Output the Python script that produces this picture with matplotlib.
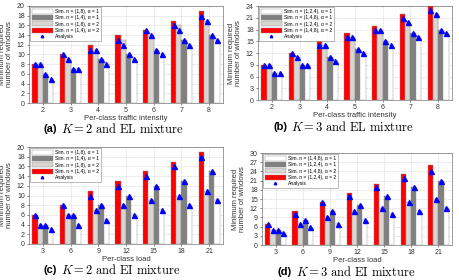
import numpy as np
import matplotlib.pyplot as plt
from matplotlib.lines import Line2D
from matplotlib.patches import Patch

plt.rcParams['font.family'] = ['Liberation Sans', 'DejaVu Sans']
plt.rcParams['mathtext.fontset'] = 'cm'

x_el = [2, 3, 4, 5, 6, 7, 8]
x_ei = [3, 6, 9, 12, 15, 18, 21]

# (a) K = 2, EL mixture -- simulation bars
a_red = [8, 10, 12, 14, 15, 17, 19]
a_light = [8, 9, 11, 13, 14, 16, 17]
a_dark = [6, 7, 9, 10, 11, 13, 14]
a_white = [5, 7, 8, 9, 10, 12, 13]
# (a) analysis triangles
a_tri_red = [8, 10, 11, 13, 15, 16, 18]
a_tri_light = [8, 9, 11, 12, 14, 15, 17]

# (b) K = 3, EL mixture
b_red = [9, 12, 15, 17, 19, 22, 24]
b_light = [9, 11, 14, 16, 18, 20, 22]
b_dark = [7, 9, 11, 13, 15, 17, 18]
b_white = [7, 9, 10, 12, 14, 16, 17]
b_tri_red = [9, 12, 14, 16, 18, 21, 23]
b_tri_light = [9, 11, 14, 16, 18, 20, 22]

# (c) K = 2, EI mixture
c_red = [6, 8, 11, 13, 15, 17, 19]
c_light = [4, 6, 7, 8, 9, 10, 11]
c_dark = [4, 6, 8, 10, 12, 13, 15]
c_white = [3, 4, 5, 6, 7, 8, 9]
c_tri_red = [6, 8, 10, 12, 14, 16, 18]
c_tri_light = [4, 6, 7, 8, 9, 10, 11]

# (d) K = 3, EI mixture
d_red = [7, 11, 14, 17, 20, 23, 26]
d_light = [5, 7, 9, 11, 12, 14, 15]
d_dark = [5, 8, 11, 13, 16, 19, 21]
d_white = [4, 6, 7, 8, 10, 11, 12]
d_tri_red = [7, 10, 14, 16, 19, 22, 24]
d_tri_light = [5, 7, 9, 11, 12, 14, 15]

labels_a = ['Sim. n = (1,8), α = 1', 'Sim. n = (1,4), α = 1',
            'Sim. n = (1,8), α = 2', 'Sim. n = (1,4), α = 2', 'Analysis']
labels_b = ['Sim. n = (1,2,4), α = 1', 'Sim. n = (1,4,8), α = 1',
            'Sim. n = (1,2,4), α = 2', 'Sim. n = (1,4,8), α = 2', 'Analysis']
labels_c = labels_a
labels_d = ['Sim. n = (1,4,8), α = 1', 'Sim. n = (1,2,4), α = 1',
            'Sim. n = (1,4,8), α = 2', 'Sim. n = (1,2,4), α = 2', 'Analysis']

RED = '#ff0000'
LIGHT = '#d9d6d2'
DARK = '#808080'
WHITE = '#ffffff'
BLUE = '#0000ff'

W, H = 459, 280
fig = plt.figure(figsize=(W / 100, H / 100), dpi=100)


def px_axes(left, right, top, bottom):
    return fig.add_axes([left / W, 1 - bottom / H, (right - left) / W, (bottom - top) / H])


def panel(ax, xs, red, light, dark, white, tri_red, tri_light, ymax, ystep,
          labels, xlabel):
    n = len(xs)
    pos = np.arange(n) + 1
    bw = 0.19
    offs = np.array([-1.5, -0.5, 0.5, 1.5]) * bw
    series = [(red, RED), (light, LIGHT), (dark, DARK), (white, WHITE)]
    for (vals, col), o in zip(series, offs):
        ax.bar(pos + o, vals, bw, color=col, edgecolor='#8c8c8c', linewidth=0.3, zorder=2)
    tri = [tri_red, tri_light, dark, white]
    for vals, o in zip(tri, offs):
        ax.plot(pos + o, vals, linestyle='', marker='^', color=BLUE, ms=3.6,
                mec=BLUE, zorder=3, clip_on=False)
    ax.set_xlim(0.5, n + 0.5)
    ax.set_ylim(0, ymax)
    ax.set_xticks(pos)
    ax.set_xticklabels([str(v) for v in xs])
    ax.set_yticks(np.arange(0, ymax + 1, ystep))
    ax.tick_params(labelsize=5, length=1.5, width=0.4, pad=1.5, colors='#333333')
    ax.grid(True, linestyle=':', color='#b0b0b0', linewidth=0.4, zorder=0)
    ax.set_axisbelow(True)
    for s in ax.spines.values():
        s.set_linewidth(0.4)
        s.set_color('#555555')
    ax.set_xlabel(xlabel, fontsize=5.5, labelpad=0.5, color='#333333')
    ax.set_ylabel('Minimum required\nnumber of windows', fontsize=5.5, labelpad=2.5,
                  color='#333333', linespacing=1.0)
    handles = [Patch(facecolor=WHITE, edgecolor='#8c8c8c', linewidth=0.3),
               Patch(facecolor=DARK, edgecolor='#8c8c8c', linewidth=0.3),
               Patch(facecolor=LIGHT, edgecolor='#8c8c8c', linewidth=0.3),
               Patch(facecolor=RED, edgecolor='#8c8c8c', linewidth=0.3),
               Line2D([], [], linestyle='', marker='^', color=BLUE, ms=1.8)]
    leg = ax.legend(handles, labels, loc='upper left', fontsize=3.6, frameon=True,
                    fancybox=False, handlelength=4.2, handleheight=1.1,
                    handletextpad=0.5, borderpad=0.4, labelspacing=0.25,
                    borderaxespad=0.15)
    leg.get_frame().set_linewidth(0.4)
    leg.get_frame().set_edgecolor('#666666')


ax_a = px_axes(29, 223, 6, 103)
panel(ax_a, x_el, a_red, a_light, a_dark, a_white, a_tri_red, a_tri_light, 20, 2,
      labels_a, 'Per-class traffic intensity')
ax_b = px_axes(258, 452, 6, 100)
panel(ax_b, x_el, b_red, b_light, b_dark, b_white, b_tri_red, b_tri_light, 24, 3,
      labels_b, 'Per-class traffic intensity')
ax_c = px_axes(29, 223, 147, 244)
panel(ax_c, x_ei, c_red, c_light, c_dark, c_white, c_tri_red, c_tri_light, 20, 2,
      labels_c, 'Per-class load')
ax_d = px_axes(262, 452, 153, 245)
panel(ax_d, x_ei, d_red, d_light, d_dark, d_white, d_tri_red, d_tri_light, 30, 3,
      labels_d, 'Per-class load')


def caption(x_split, y, tag, body):
    fig.text(x_split / W, 1 - y / H, tag, fontsize=8, fontweight='bold',
             ha='right', va='center')
    fig.text((x_split + 4) / W, 1 - y / H, body, fontsize=9, ha='left', va='center')


caption(57, 129, '(a)', r'$K = 2\ \mathrm{and\ EL\ mixture}$')
caption(287, 127, '(b)', r'$K = 3\ \mathrm{and\ EL\ mixture}$')
caption(57, 270, '(c)', r'$K = 2\ \mathrm{and\ EI\ mixture}$')
caption(292, 272, '(d)', r'$K = 3\ \mathrm{and\ EI\ mixture}$')

fig.savefig('out.png', dpi=100)
